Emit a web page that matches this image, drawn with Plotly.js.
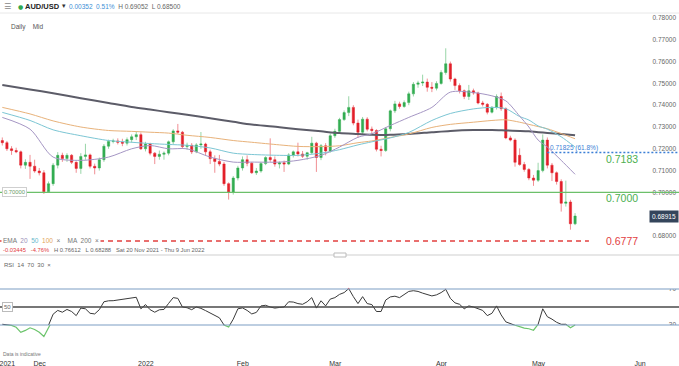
<!DOCTYPE html>
<html><head><meta charset="utf-8">
<script src="https://cdn.plot.ly/plotly-3.0.1.min.js"></script>
<style>html,body{margin:0;padding:0;background:#fff;overflow:hidden}#chart{width:679px;height:366px}</style>
</head><body><div id="chart"></div>
<script>
// ---------- DATA ----------
const dates = ['2021-11-22','2021-11-23','2021-11-24','2021-11-25','2021-11-26','2021-11-29','2021-11-30',
'2021-12-01','2021-12-02','2021-12-03','2021-12-06','2021-12-07','2021-12-08','2021-12-09','2021-12-10','2021-12-13','2021-12-14','2021-12-15','2021-12-16','2021-12-17','2021-12-20','2021-12-21','2021-12-22','2021-12-23','2021-12-24','2021-12-27','2021-12-28','2021-12-29','2021-12-30','2021-12-31',
'2022-01-03','2022-01-04','2022-01-05','2022-01-06','2022-01-07','2022-01-10','2022-01-11','2022-01-12','2022-01-13','2022-01-14','2022-01-17','2022-01-18','2022-01-19','2022-01-20','2022-01-21','2022-01-24','2022-01-25','2022-01-26','2022-01-27','2022-01-28','2022-01-31',
'2022-02-01','2022-02-02','2022-02-03','2022-02-04','2022-02-07','2022-02-08','2022-02-09','2022-02-10','2022-02-11','2022-02-14','2022-02-15','2022-02-16','2022-02-17','2022-02-18','2022-02-21','2022-02-22','2022-02-23','2022-02-24','2022-02-25','2022-02-28',
'2022-03-01','2022-03-02','2022-03-03','2022-03-04','2022-03-07','2022-03-08','2022-03-09','2022-03-10','2022-03-11','2022-03-14','2022-03-15','2022-03-16','2022-03-17','2022-03-18','2022-03-21','2022-03-22','2022-03-23','2022-03-24','2022-03-25','2022-03-28','2022-03-29','2022-03-30','2022-03-31',
'2022-04-01','2022-04-04','2022-04-05','2022-04-06','2022-04-07','2022-04-08','2022-04-11','2022-04-12','2022-04-13','2022-04-14','2022-04-15','2022-04-18','2022-04-19','2022-04-20','2022-04-21','2022-04-22','2022-04-25','2022-04-26','2022-04-27','2022-04-28','2022-04-29',
'2022-05-02','2022-05-03','2022-05-04','2022-05-05','2022-05-06','2022-05-09','2022-05-10','2022-05-11','2022-05-12','2022-05-13'];

const openP = [.7238,.7228,.7200,.7192,.7186,.7125,.7138,
.7120,.7098,.7090,.7003,.7040,.7125,.7170,.7155,.7170,.7138,.7110,.7165,.7172,.7120,.7112,.7150,.7212,.7234,.7236,.7230,.7226,.7242,.7255,
.7265,.7200,.7222,.7180,.7165,.7175,.7180,.7232,.7282,.7276,.7210,.7216,.7186,.7218,.7222,.7186,.7155,.7142,.7130,.7040,.7002,
.7066,.7112,.7150,.7134,.7090,.7098,.7132,.7160,.7150,.7130,.7136,.7130,.7172,.7186,.7176,.7166,.7182,.7226,.7160,.7214,
.7190,.7260,.7280,.7334,.7366,.7390,.7318,.7276,.7336,.7290,.7284,.7198,.7192,.7292,.7374,.7406,.7394,.7412,.7452,.7496,.7502,.7506,.7482,
.7478,.7500,.7550,.7590,.7520,.7490,.7466,.7440,.7466,.7456,.7410,.7404,.7368,.7390,.7440,.7384,.7250,.7240,.7170,.7128,.7105,
.7066,.7056,.7100,.7240,.7125,.7090,.7050,.6950,.6956,.6856];
const highP = [.7252,.7236,.7212,.7205,.7192,.7152,.7172,
.7150,.7112,.7102,.7050,.7135,.7185,.7182,.7180,.7176,.7142,.7180,.7223,.7178,.7132,.7160,.7222,.7242,.7246,.7248,.7246,.7252,.7266,.7278,
.7275,.7232,.7228,.7185,.7192,.7188,.7238,.7290,.7314,.7282,.7228,.7226,.7226,.7277,.7228,.7196,.7170,.7172,.7140,.7046,.7075,
.7122,.7165,.7170,.7140,.7112,.7140,.7166,.7248,.7165,.7142,.7146,.7180,.7192,.7228,.7190,.7186,.7255,.7232,.7222,.7226,
.7270,.7292,.7342,.7376,.7441,.7400,.7334,.7346,.7345,.7302,.7290,.7214,.7300,.7380,.7420,.7416,.7422,.7462,.7506,.7512,.7540,.7522,.7506,
.7510,.7560,.7661,.7600,.7526,.7500,.7472,.7493,.7476,.7462,.7420,.7410,.7396,.7450,.7458,.7390,.7260,.7248,.7202,.7140,.7112,
.7080,.7136,.7266,.7252,.7135,.7096,.7060,.7054,.6966,.6905];
const lowP = [.7215,.7190,.7172,.7180,.7110,.7108,.7062,
.7090,.7078,.6993,.6998,.7030,.7110,.7140,.7140,.7130,.7090,.7085,.7150,.7110,.7083,.7100,.7140,.7200,.7225,.7220,.7212,.7215,.7228,.7240,
.7195,.7188,.7170,.7130,.7150,.7150,.7170,.7222,.7268,.7200,.7195,.7176,.7180,.7200,.7170,.7130,.7090,.7120,.7030,.6967,.6990,
.7055,.7100,.7120,.7085,.7080,.7090,.7125,.7140,.7118,.7110,.7094,.7125,.7160,.7165,.7158,.7150,.7175,.7094,.7148,.7170,
.7182,.7250,.7274,.7328,.7350,.7308,.7250,.7268,.7280,.7264,.7188,.7165,.7186,.7280,.7364,.7384,.7388,.7400,.7440,.7480,.7488,.7462,.7460,
.7468,.7494,.7540,.7508,.7470,.7454,.7428,.7424,.7448,.7404,.7394,.7358,.7362,.7380,.7374,.7244,.7234,.7118,.7122,.7095,.7056,
.7030,.7048,.7092,.7110,.7052,.7036,.6912,.6935,.6829,.6850];
const closeP = [.7228,.7200,.7192,.7186,.7125,.7138,.7120,
.7098,.7090,.7003,.7040,.7125,.7170,.7155,.7170,.7138,.7110,.7165,.7172,.7120,.7112,.7150,.7212,.7234,.7236,.7230,.7226,.7242,.7255,.7265,
.7200,.7222,.7180,.7165,.7175,.7180,.7232,.7282,.7276,.7210,.7216,.7186,.7218,.7222,.7186,.7155,.7142,.7130,.7040,.7002,.7066,
.7112,.7150,.7134,.7090,.7098,.7132,.7160,.7150,.7130,.7136,.7130,.7172,.7186,.7176,.7166,.7182,.7226,.7160,.7214,.7190,
.7260,.7280,.7334,.7366,.7390,.7318,.7276,.7336,.7290,.7284,.7198,.7192,.7292,.7374,.7406,.7394,.7412,.7452,.7496,.7502,.7506,.7482,.7478,
.7500,.7550,.7590,.7520,.7490,.7466,.7440,.7466,.7456,.7410,.7404,.7368,.7390,.7440,.7384,.7250,.7240,.7138,.7128,.7105,.7066,
.7056,.7100,.7240,.7125,.7090,.7050,.6950,.6956,.6856,.68915];

const maDates = ['2021-11-22','2021-11-30','2021-12-07','2021-12-15','2021-12-23','2021-12-30','2022-01-05','2022-01-11','2022-01-17','2022-01-24','2022-01-31','2022-02-04','2022-02-14','2022-02-18','2022-02-25','2022-03-03','2022-03-09','2022-03-14','2022-03-18','2022-03-24','2022-03-31','2022-04-06','2022-04-13','2022-04-19','2022-04-22','2022-04-27','2022-04-29','2022-05-03','2022-05-05','2022-05-10','2022-05-13'];
const ema20 = [.7344,.7290,.7162,.7147,.7162,.7200,.7215,.7200,.7200,.7162,.7139,.7139,.7139,.7147,.7170,.7208,.7253,.7269,.7307,.7344,.7390,.7460,.7458,.7443,.7420,.7350,.7300,.7240,.7208,.7147,.7083];
const ema50 = [.7367,.7330,.7287,.7260,.7238,.7230,.7224,.7220,.7216,.7204,.7180,.7174,.7170,.7170,.7180,.7196,.7218,.7232,.7250,.7275,.7330,.7362,.7383,.7390,.7384,.7348,.7332,.7305,.7290,.7255,.7208];
const ema100 = [.7390,.7360,.7328,.7300,.7284,.7280,.7276,.7272,.7262,.7252,.7238,.7230,.7218,.7211,.7210,.7214,.7228,.7236,.7252,.7268,.7298,.7312,.7322,.7330,.7333,.7322,.7312,.7302,.7292,.7270,.7246];
const ma200 = [.7493,.7472,.7455,.7432,.7410,.7392,.7380,.7368,.7356,.7340,.7324,.7311,.7299,.7290,.7280,.7272,.7268,.7265,.7264,.7268,.7276,.7282,.7286,.7286,.7284,.7282,.7280,.7276,.7273,.7268,.7262];

const rsi = [30.8,30.2,29.6,27.5,21.9,24,26.9,25,22,17.3,
28.8,42,46.2,44.2,47.3,45,40.4,48.8,48,43,
42.3,47,55.8,56.9,57,57.8,58.5,59.5,60.4,60.8,
48,52.7,47,44.2,46.9,47.3,54,60.4,59.6,50,
49.2,47,50,48.5,46,43.5,41.2,38,30,27.7,
36.5,48,49,46.2,42.3,44,51.2,51.9,50,48.8,
49.5,50,55.8,55.5,53.8,53,55.8,60.4,48.8,56.9,
51.2,58.8,60.4,64,66,70.4,61.5,53.8,61.5,53.8,
52.7,45,45,57.7,61.2,62,60.4,64.2,67.3,68.1,
67.3,65.4,64.2,62.3,63.5,66,69.6,59.6,54.6,53,
48,51.2,50,48,46.2,40.4,43,51.2,41.2,33.5,
31.5,29.6,27.7,26.5,25.8,24.2,30.8,48,39.2,36.5,
33,30.8,30.8,26.9,30];

const priceTicks = [0.68,0.70,0.71,0.72,0.73,0.74,0.75,0.76,0.77,0.78];
const monthTicks = ['2021-11-22','2021-12-01','2022-01-03','2022-02-01','2022-03-01','2022-04-01','2022-05-02','2022-06-01'];
const monthLabels = ['2021','Dec','2022','Feb','Mar','Apr','May','Jun'];
const levels = {support: 0.70, fib: 0.71825, target: 0.6777, last: 0.68915};
const fibStart = '2022-05-05';
const targetEnd = '2022-05-18';

// ---------- LAYOUT HELPERS ----------
const H = 366, W = 679;
const py = y => (H - y) / H;
const px = x => x / W;
const FONT = 'Liberation Sans, Arial, sans-serif';
const xRange = ['2021-11-19 12:00', '2022-06-14 12:00'];
const rb = [{bounds: ['sat', 'mon']}];

const priceTop = 14, priceBot = 248;
const pTop = 0.78 + (18 - priceTop) / 2180, pBot = 0.78 - (priceBot - 18) / 2180;
const rTopPx = 258, rBotPx = 350;
const rMax = 70 + (289 - rTopPx) / 0.9, rMin = 30 - (rBotPx - 325) / 0.9;

const C_UP = '#33ad52', C_DN = '#e3202a';

const traces = [
  {type:'candlestick', x: dates, open: openP, high: highP, low: lowP, close: closeP,
   xaxis:'x', yaxis:'y', whiskerwidth:0,
   increasing:{line:{color:'rgba(51,173,82,0.5)', width:1}, fillcolor:C_UP},
   decreasing:{line:{color:'rgba(227,32,42,0.5)', width:1}, fillcolor:C_DN},
   hoverinfo:'skip'},
  {type:'scatter', mode:'lines', x: maDates, y: ma200, line:{color:'#5c5c68', width:2, shape:'spline', smoothing:0.8}, xaxis:'x', yaxis:'y', hoverinfo:'skip'},
  {type:'scatter', mode:'lines', x: maDates, y: ema100, line:{color:'#e8b27a', width:1, shape:'spline', smoothing:0.8}, xaxis:'x', yaxis:'y', hoverinfo:'skip'},
  {type:'scatter', mode:'lines', x: maDates, y: ema50, line:{color:'#7cc6d4', width:1, shape:'spline', smoothing:0.8}, xaxis:'x', yaxis:'y', hoverinfo:'skip'},
  {type:'scatter', mode:'lines', x: maDates, y: ema20, line:{color:'#a596c4', width:1, shape:'spline', smoothing:0.8}, xaxis:'x', yaxis:'y', hoverinfo:'skip'},
  {type:'scatter', mode:'lines', x: dates, y: rsi, line:{color:'#3a3a3a', width:1}, xaxis:'x2', yaxis:'y2', hoverinfo:'skip'},
  {type:'scatter', mode:'lines', x: dates, y: rsi, line:{color:'#6cc46c', width:1.2}, xaxis:'x2', yaxis:'y3', hoverinfo:'skip'},
  {type:'scatter', mode:'lines', x: dates, y: rsi, line:{color:'#e33', width:1.2}, xaxis:'x2', yaxis:'y4', hoverinfo:'skip'}
];

const shapes = [
  {type:'line', xref:'paper', yref:'paper', x0:0, x1:1, y0:py(13), y1:py(13), line:{color:'#e8e8e8', width:1}},
  {type:'line', xref:'paper', yref:'paper', x0:0, x1:1, y0:py(255), y1:py(255), line:{color:'#cfcfcf', width:1}},
  {type:'rect', xref:'paper', yref:'paper', x0:px(334), x1:px(346), y0:py(257), y1:py(253), fillcolor:'#fff', line:{color:'#bbb', width:1}},
  {type:'line', xref:'paper', yref:'y2', x0:0, x1:1, y0:70, y1:70, line:{color:'#7d9ec4', width:1.2}},
  {type:'line', xref:'paper', yref:'y2', x0:0, x1:1, y0:30, y1:30, line:{color:'#7d9ec4', width:1.2}},
  {type:'line', xref:'paper', yref:'y2', x0:0, x1:1, y0:50, y1:50, line:{color:'#4a4a4a', width:1.6}},
  {type:'line', xref:'paper', yref:'y', x0:0, x1:1, y0:levels.support, y1:levels.support, line:{color:'#6cc06a', width:1.3}},
  {type:'line', xref:'x', yref:'y', x0:fibStart, x1:xRange[1], y0:levels.fib, y1:levels.fib, line:{color:'#3b7fd6', width:1.5, dash:'2px,2px'}},
  {type:'line', xref:'x', yref:'y', x0:xRange[0], x1:targetEnd, y0:levels.target, y1:levels.target, line:{color:'#e2403f', width:1.3, dash:'5px,4px'}}
];

const ann = (o) => Object.assign({showarrow:false, xanchor:'left', yanchor:'middle', font:{family:FONT, size:7, color:'#555'}}, o);
const annotations = [
  ann({xref:'paper', yref:'paper', x:px(2), y:py(6), text:'☰', font:{family:'DejaVu Sans', size:8, color:'#888'}}),
  ann({xref:'paper', yref:'paper', x:px(16), y:py(6), text:'●', font:{family:'DejaVu Sans', size:6, color:'#2fa84f'}}),
  ann({xref:'paper', yref:'paper', x:px(23), y:py(6), text:'<b>AUD/USD</b>', font:{family:FONT, size:7.5, color:'#222'}}),
  ann({xref:'paper', yref:'paper', x:px(60), y:py(6), text:'▾', font:{family:'DejaVu Sans', size:7, color:'#333'}}),
  ann({xref:'paper', yref:'paper', x:px(67), y:py(6), text:'<span style="color:#3d8fd6">0.00352  0.51%</span>  H 0.69052  L 0.68500', font:{family:FONT, size:6.5, color:'#666'}}),
  ann({xref:'paper', yref:'paper', x:px(9), y:py(27), text:'Daily    Mid', font:{family:FONT, size:6.5, color:'#555'}}),
  ann({xref:'paper', yref:'paper', x:px(1), y:py(241), bgcolor:'#fff', borderpad:1, text:'EMA  <span style="color:#9a8fb8">20</span>  <span style="color:#6ab9cc">50</span>  <span style="color:#e3a55c">100</span>  ×    MA  <span style="color:#777">200</span>  ×', font:{family:FONT, size:6.5, color:'#777'}}),
  ann({xref:'paper', yref:'paper', x:px(1), y:py(249.5), text:'<span style="color:#e2403f">-0.03445   -4.76%</span>   H 0.76612   L 0.68288   Sat 20 Nov 2021 - Thu 9 Jun 2022', font:{family:FONT, size:5.8, color:'#666'}}),
  ann({xref:'paper', yref:'paper', x:px(2), y:py(265), text:'RSI  14  70  30  ×', font:{family:FONT, size:6, color:'#666'}}),
  ann({xref:'paper', yref:'paper', x:px(1), y:py(354), text:'Data is indicative', font:{family:FONT, size:5, color:'#777'}}),
  ann({xref:'paper', yref:'y2', x:px(2), y:50, text:'50', bgcolor:'#fff', bordercolor:'#bbb', borderwidth:1, borderpad:1, font:{family:FONT, size:6, color:'#666'}}),
  ann({xref:'paper', yref:'y', x:px(2), y:levels.support, text:'0.70000', bgcolor:'#fff', bordercolor:'#cfcfcf', borderwidth:1, borderpad:1, font:{family:FONT, size:5.8, color:'#6a9a68'}}),
  ann({xref:'x', yref:'y', x:fibStart, xshift:1, y:levels.fib, yshift:5, text:'0.71825 (61.8%)', font:{family:FONT, size:6.5, color:'#3b7fd6'}}),
  ann({xref:'paper', yref:'y', x:px(604), y:levels.fib, yshift:-6, text:'0.7183', font:{family:FONT, size:10.5, color:'#4caf50'}}),
  ann({xref:'paper', yref:'y', x:px(604), y:levels.support, yshift:-6, text:'0.7000', font:{family:FONT, size:10.5, color:'#4caf50'}}),
  ann({xref:'paper', yref:'y', x:px(604), y:levels.target, text:'0.6777', font:{family:FONT, size:10.5, color:'#e2403f'}}),
  ann({xref:'paper', yref:'y', x:1, xanchor:'right', y:levels.last, text:'0.68915', bgcolor:'#34455b', borderpad:2, font:{family:FONT, size:6.5, color:'#fff'}})
];

const layout = {
  width: W, height: H, margin:{l:0, r:0, t:0, b:0},
  paper_bgcolor:'#fff', plot_bgcolor:'#fff', showlegend:false,
  font:{family:FONT},
  xaxis:{domain:[0,1], anchor:'y', type:'date', range:xRange, rangebreaks:rb, rangeslider:{visible:false},
         showticklabels:false, showgrid:false, zeroline:false, showline:false, ticks:''},
  xaxis2:{domain:[0,1], anchor:'y2', type:'date', matches:'x', range:xRange, rangebreaks:rb,
          tickvals:monthTicks, ticktext:monthLabels, ticks:'', ticklabelshift:5, ticklabelstandoff:8,
          ticklabeloverflow:'allow',
          tickfont:{family:FONT, size:7, color:'#333'}, showgrid:false, zeroline:false, showline:false},
  yaxis:{domain:[py(priceBot), py(priceTop)], anchor:'x', side:'right', range:[pBot, pTop],
         tickvals:priceTicks, tickformat:'.5f', ticklabelposition:'inside', ticks:'',
         tickfont:{family:FONT, size:6.5, color:'#666'}, showgrid:false, zeroline:false, showline:false},
  yaxis2:{domain:[py(rBotPx), py(rTopPx)], anchor:'x2', side:'right', range:[rMin, rMax],
          tickvals:[30,70], ticklabelposition:'inside', ticks:'',
          tickfont:{family:FONT, size:6.5, color:'#666'}, showgrid:false, zeroline:false, showline:false},
  yaxis3:{domain:[py(rBotPx), py(325)], anchor:'x2', range:[rMin, 30], visible:false, showgrid:false, zeroline:false},
  yaxis4:{domain:[py(289), py(rTopPx)], anchor:'x2', range:[70, rMax], visible:false, showgrid:false, zeroline:false},
  shapes: shapes,
  annotations: annotations
};

Plotly.newPlot('chart', traces, layout, {displayModeBar:false, staticPlot:true});
</script></body></html>
